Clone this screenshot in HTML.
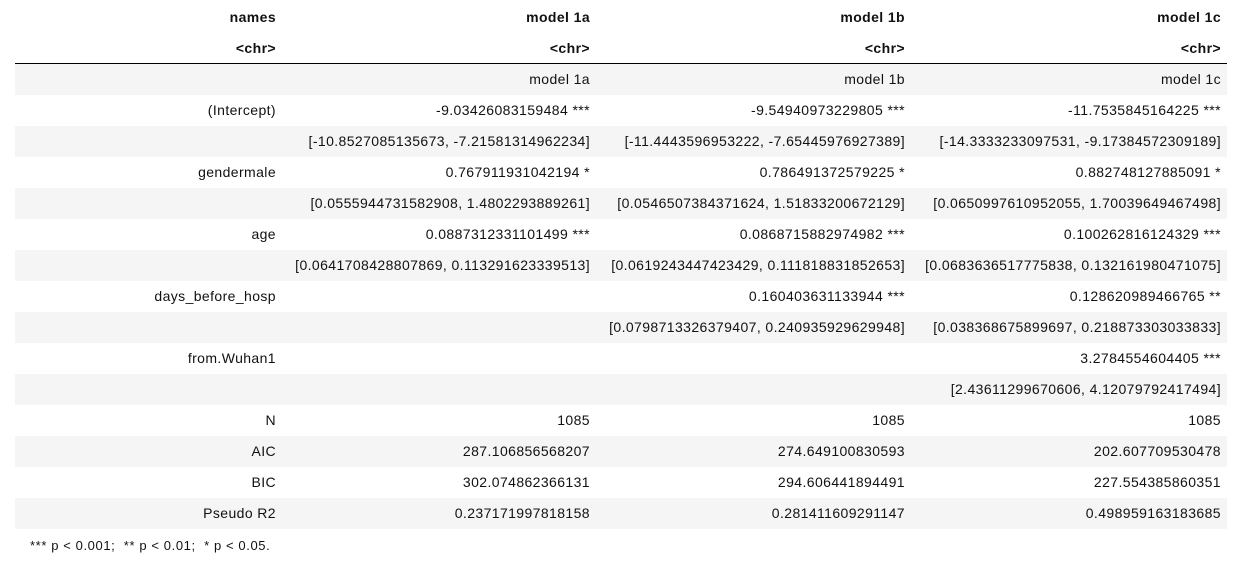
<!DOCTYPE html>
<html><head><meta charset="utf-8"><style>
body{margin:0;width:1249px;height:564px;background:#fff;font-family:"Liberation Sans",Arial,sans-serif;font-size:14px;letter-spacing:0.4px;color:#111;overflow:hidden;position:relative}
.r{position:absolute;left:15px;width:1212px;height:31px}
.s{background:#f5f5f5}
.c{position:absolute;top:0;height:31px;line-height:31px;text-align:right;white-space:pre}
.h{font-weight:bold}
#rule{position:absolute;left:15px;top:63px;width:1212px;height:1px;background:#000}
#foot{position:absolute;left:30px;top:538px;font-size:13px;letter-spacing:0.6px;white-space:pre}
</style></head><body>
<div id="tbl"></div>
<div id="rule"></div>
<div id="foot">*** p &lt; 0.001;  ** p &lt; 0.01;  * p &lt; 0.05.</div>
<script>
const cols=[[0,261],[267,575],[581,890],[896,1206]];
const header=["names","model 1a","model 1b","model 1c"];
const types=["<chr>","<chr>","<chr>","<chr>"];
const rows=[
["","model 1a","model 1b","model 1c"],
["(Intercept)","-9.03426083159484 ***","-9.54940973229805 ***","-11.7535845164225 ***"],
["","[-10.8527085135673, -7.21581314962234]","[-11.4443596953222, -7.65445976927389]","[-14.3333233097531, -9.17384572309189]"],
["gendermale","0.767911931042194 *","0.786491372579225 *","0.882748127885091 *"],
["","[0.0555944731582908, 1.4802293889261]","[0.0546507384371624, 1.51833200672129]","[0.0650997610952055, 1.70039649467498]"],
["age","0.0887312331101499 ***","0.0868715882974982 ***","0.100262816124329 ***"],
["","[0.0641708428807869, 0.113291623339513]","[0.0619243447423429, 0.111818831852653]","[0.0683636517775838, 0.132161980471075]"],
["days_before_hosp","","0.160403631133944 ***","0.128620989466765 **"],
["","","[0.0798713326379407, 0.240935929629948]","[0.038368675899697, 0.218873303033833]"],
["from.Wuhan1","","","3.2784554604405 ***"],
["","","","[2.43611299670606, 4.12079792417494]"],
["N","1085","1085","1085"],
["AIC","287.106856568207","274.649100830593","202.607709530478"],
["BIC","302.074862366131","294.606441894491","227.554385860351"],
["Pseudo R2","0.237171997818158","0.281411609291147","0.498959163183685"]
];
const tbl=document.getElementById('tbl');
function addRow(vals,top,cls,name){
  const r=document.createElement('div');
  r.className='r'+(cls?' '+cls:'');
  r.style.top=top+'px';
  
  
  vals.forEach((v,i)=>{
    const c=document.createElement('div');
    c.className='c';
    c.style.left=cols[i][0]+'px';c.style.width=(cols[i][1]-cols[i][0])+'px';
    c.textContent=v;
    
    
    r.appendChild(c);
  });
  tbl.appendChild(r);
}
addRow(header,2,'h','header-row');
addRow(types,33,'h','type-row');
rows.forEach((row,i)=>addRow(row,64+i*31,i%2===0?'s':'','table-row'));
</script>
</body></html>
